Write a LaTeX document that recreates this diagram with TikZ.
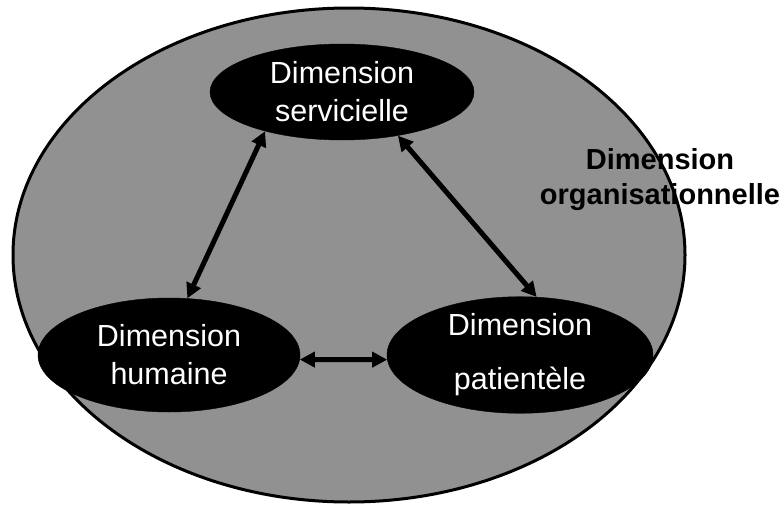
\documentclass[tikz,border=0pt]{standalone}
\usepackage{fontspec}
\setmainfont{Liberation Sans}
\usetikzlibrary{shapes.geometric,arrows.meta}
\definecolor{mottle}{RGB}{145,145,145}
\tikzset{
  dimbox/.style={ellipse, fill=black, draw=black, inner sep=0pt, text=white, align=center,
    font=\fontsize{30.5}{38}\selectfont},
  link/.style={line width=5pt, {Triangle[length=15pt,width=15pt]}-{Triangle[length=15pt,width=15pt]}},
}
\begin{document}
\begin{tikzpicture}[x=1pt,y=-1pt]
\useasboundingbox (0,0) rectangle (782,506);
\node[ellipse, draw=black, line width=3pt, fill=mottle, minimum width=672pt, minimum height=494pt, inner sep=0pt] (outer) at (349,255) {};
\node[dimbox, minimum width=264pt, minimum height=96pt] (s) at (342,92) {Dimension\\servicielle};
\node[dimbox, minimum width=262pt, minimum height=114pt] (h) at (169,355) {Dimension\\humaine};
\node[dimbox, minimum width=266pt, minimum height=116pt] (p) at (520,355) {Dimension\\[16pt]patientèle};
\draw[link] (s.207) -- (h.72);
\draw[link] (s.322) -- (p.74);
\draw[link] (h.-2) -- (p.182);
\node[align=center, font=\fontsize{29}{35}\selectfont\bfseries] (org) at (660,180) {Dimension\\organisationnelle};
\end{tikzpicture}
\end{document}
